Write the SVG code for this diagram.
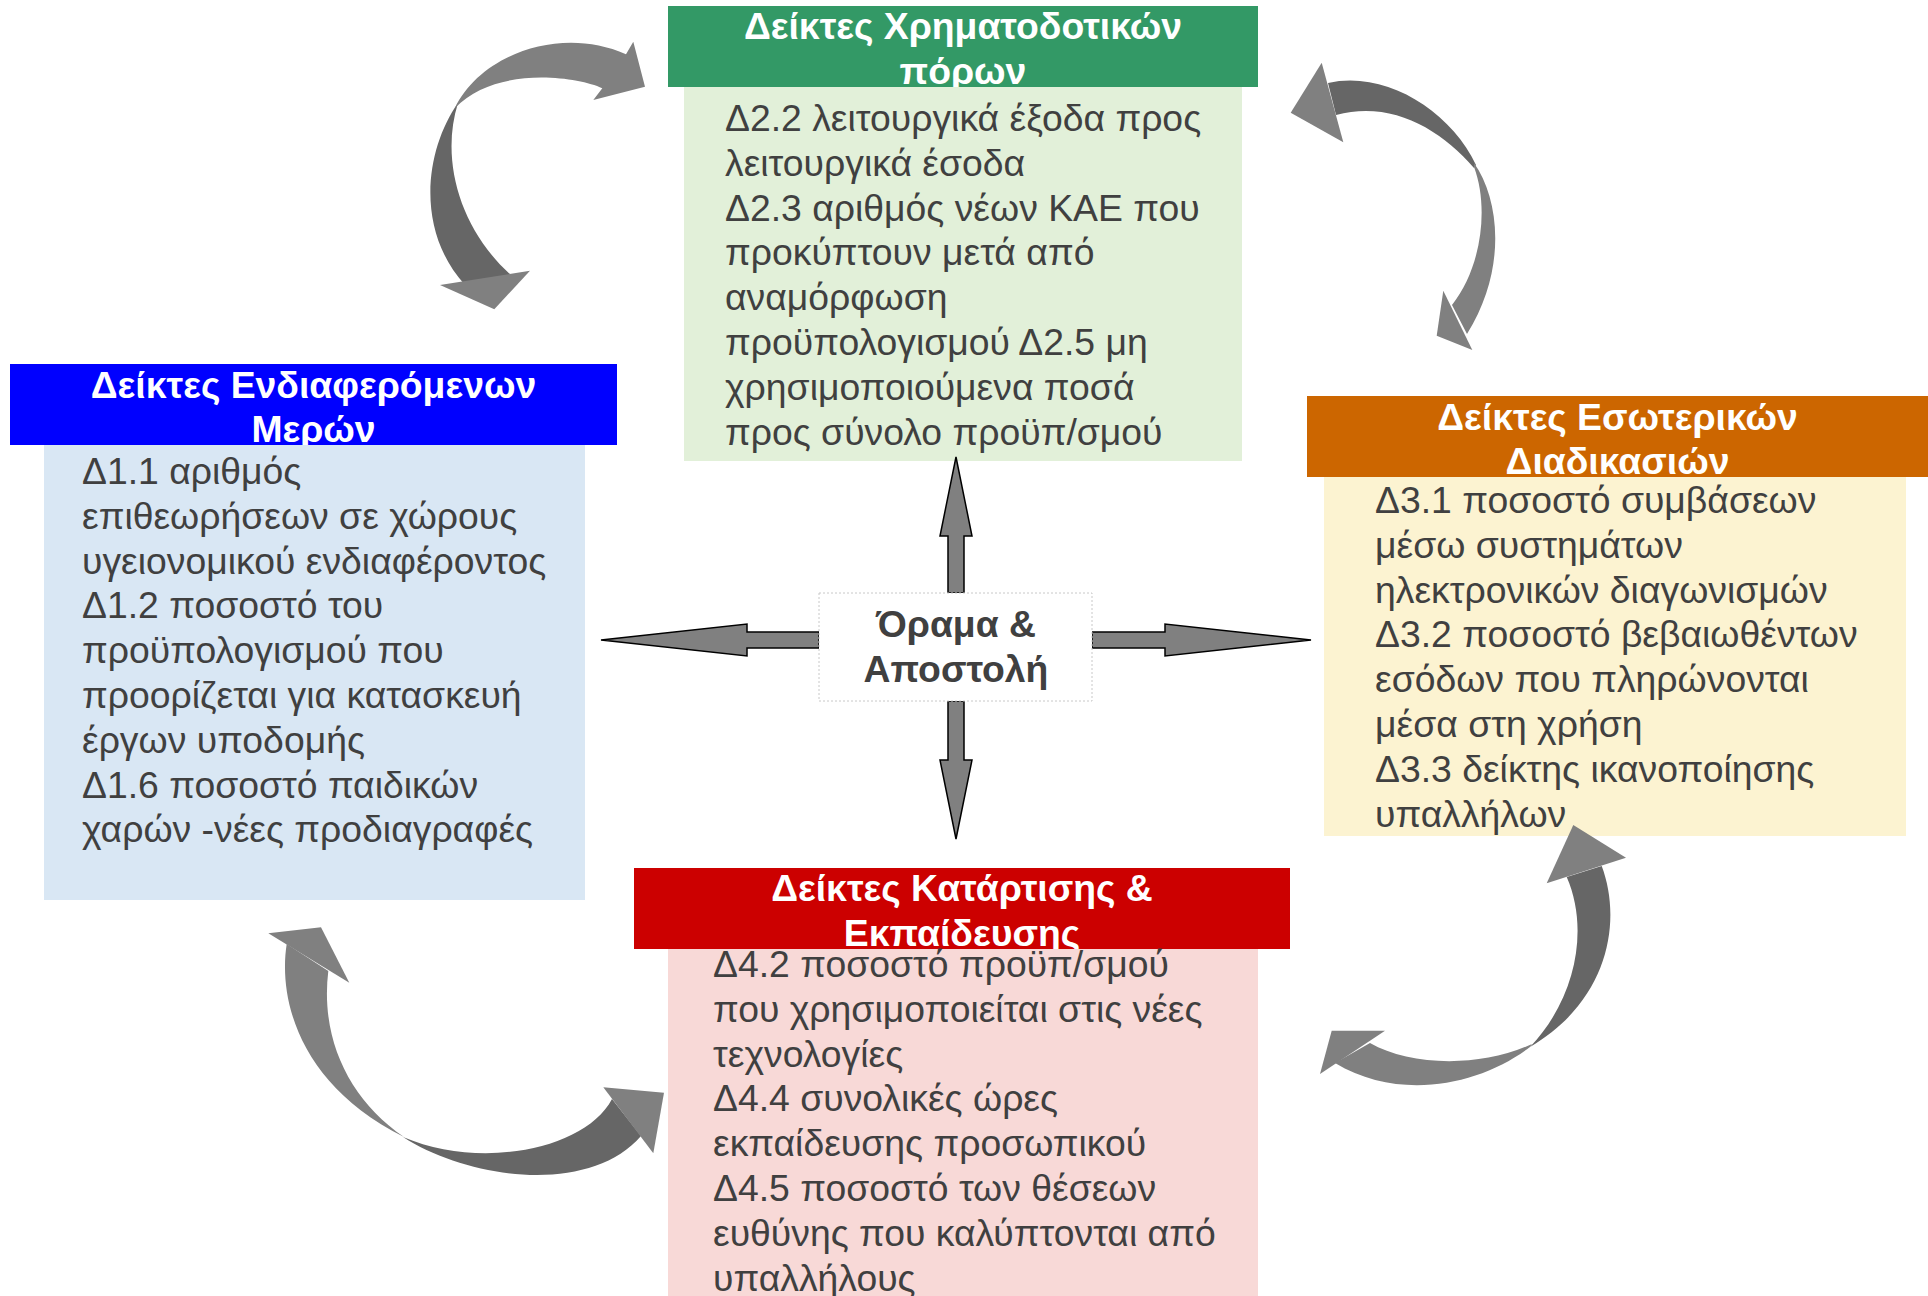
<svg xmlns="http://www.w3.org/2000/svg" width="1928" height="1296" viewBox="0 0 1928 1296">
<style>
text{font-family:"Liberation Sans",Arial,sans-serif;font-size:37.33px}
.t{fill:#ffffff;font-weight:bold;text-anchor:middle}
.b{fill:#404040}
.c{fill:#404040;font-weight:bold;text-anchor:middle}
.lt{fill:#808080}
.dk{fill:#666666}
.sa{fill:#808080;stroke:#000;stroke-width:1.5;stroke-linejoin:miter}
</style>
<rect width="1928" height="1296" fill="#ffffff"/>

<g id="node-finance">
<rect x="668" y="6" width="590" height="81" fill="#339966"/>
<text class="t"><tspan x="963" y="39">Δείκτες Χρηματοδοτικών</tspan><tspan x="963" y="83.8">πόρων</tspan></text>
<rect x="684" y="87" width="558" height="374" fill="#e2f0d9"/>
<text class="b"><tspan x="725" y="131">Δ2.2 λειτουργικά έξοδα προς</tspan><tspan x="725" y="175.8">λειτουργικά έσοδα</tspan><tspan x="725" y="220.6">Δ2.3 αριθμός νέων ΚΑΕ που</tspan><tspan x="725" y="265.4">προκύπτουν μετά από</tspan><tspan x="725" y="310.2">αναμόρφωση</tspan><tspan x="725" y="355">προϋπολογισμού Δ2.5 μη</tspan><tspan x="725" y="399.8">χρησιμοποιούμενα ποσά</tspan><tspan x="725" y="444.6">προς σύνολο προϋπ/σμού</tspan></text>
</g>

<g id="node-stakeholders">
<rect x="10" y="364" width="607" height="81" fill="#0000ff"/>
<text class="t"><tspan x="313.5" y="397.5">Δείκτες Ενδιαφερόμενων</tspan><tspan x="313.5" y="442.3">Μερών</tspan></text>
<rect x="44" y="445" width="541" height="455" fill="#d9e7f4"/>
<text class="b"><tspan x="82" y="484">Δ1.1 αριθμός</tspan><tspan x="82" y="528.8">επιθεωρήσεων σε χώρους</tspan><tspan x="82" y="573.6">υγειονομικού ενδιαφέροντος</tspan><tspan x="82" y="618.4">Δ1.2 ποσοστό του</tspan><tspan x="82" y="663.2">προϋπολογισμού που</tspan><tspan x="82" y="708">προορίζεται για κατασκευή</tspan><tspan x="82" y="752.8">έργων υποδομής</tspan><tspan x="82" y="797.6">Δ1.6 ποσοστό παιδικών</tspan><tspan x="82" y="842.4">χαρών -νέες προδιαγραφές</tspan></text>
</g>

<g id="node-internal">
<rect x="1307" y="396" width="621" height="81" fill="#cc6600"/>
<text class="t"><tspan x="1617.5" y="429.5">Δείκτες Εσωτερικών</tspan><tspan x="1617.5" y="474.3">Διαδικασιών</tspan></text>
<rect x="1324" y="477" width="582" height="359" fill="#fcf3d1"/>
<text class="b"><tspan x="1375" y="513">Δ3.1 ποσοστό συμβάσεων</tspan><tspan x="1375" y="557.8">μέσω συστημάτων</tspan><tspan x="1375" y="602.6">ηλεκτρονικών διαγωνισμών</tspan><tspan x="1375" y="647.4">Δ3.2 ποσοστό βεβαιωθέντων</tspan><tspan x="1375" y="692.2">εσόδων που πληρώνονται</tspan><tspan x="1375" y="737">μέσα στη χρήση</tspan><tspan x="1375" y="781.8">Δ3.3 δείκτης ικανοποίησης</tspan><tspan x="1375" y="826.6">υπαλλήλων</tspan></text>
</g>

<g id="node-training">
<rect x="634" y="868" width="656" height="81" fill="#cc0000"/>
<text class="t"><tspan x="962" y="901">Δείκτες Κατάρτισης &amp;</tspan><tspan x="962" y="945.8">Εκπαίδευσης</tspan></text>
<rect x="668" y="949" width="590" height="347" fill="#f8d9d7"/>
<text class="b"><tspan x="713" y="977">Δ4.2 ποσοστό προϋπ/σμού</tspan><tspan x="713" y="1021.8">που χρησιμοποιείται στις νέες</tspan><tspan x="713" y="1066.6">τεχνολογίες</tspan><tspan x="713" y="1111.4">Δ4.4 συνολικές ώρες</tspan><tspan x="713" y="1156.2">εκπαίδευσης προσωπικού</tspan><tspan x="713" y="1201">Δ4.5 ποσοστό των θέσεων</tspan><tspan x="713" y="1245.8">ευθύνης που καλύπτονται από</tspan><tspan x="713" y="1290.6">υπαλλήλους</tspan></text>
</g>

<g id="connectors">
<polygon class="sa" points="948,593 948,536 940,536 956,457 972,536 964,536 964,593"/>
<polygon class="sa" points="948,701 948,760 940,760 956,839 972,760 964,760 964,701"/>
<polygon class="sa" points="819,632 747,632 747,624 601,640 747,656 747,648 819,648"/>
<polygon class="sa" points="1092,632 1165,632 1165,624 1311,640 1165,656 1165,648 1092,648"/>

<g id="curved-top-left">
<path class="dk" d="M458,103 C425,150 415,230 465,285 L512,276 C460,230 440,160 458,103 Z"/>
<path class="lt" d="M626,54.3 L633.3,41.7 L645,86.7 L593.3,100 L602.3,88.3 C575,76 495,66 455,108 C480,55 560,25 626,54.3 Z"/>
<polygon class="lt" points="440,285 530,270.7 494.3,309.3"/>
</g>

<g id="curved-top-right">
<path class="dk" d="M1328,83 C1385,70 1450,110 1476,165 L1474,168 C1440,128 1390,100 1336,115 Z"/>
<path class="lt" d="M1474,163 C1500,200 1507,270 1467,334 L1452,305 C1480,270 1490,210 1474,167 Z"/>
<polygon class="lt" points="1321.7,62.7 1290.7,112.7 1343.3,142.3"/>
<polygon class="lt" points="1443.3,290.7 1436.7,335.7 1472.3,350"/>
</g>

<g id="curved-bottom-right">
<path class="dk" d="M1601.7,866 C1622,920 1610,1000 1530,1047 C1575,1000 1590,930 1566.7,877 Z"/>
<path class="lt" d="M1530,1047 C1480,1085 1400,1102 1335,1063 L1370,1043 C1410,1066 1480,1068 1532,1044 Z"/>
<polygon class="lt" points="1573.3,825 1626,857.7 1546.7,883.3"/>
<polygon class="lt" points="1331.7,1030.7 1385,1030.7 1320,1074"/>
</g>

<g id="curved-bottom-left">
<path class="dk" d="M403,1137 C470,1180 590,1195 641,1136 L612,1099 C585,1150 480,1170 403,1137 Z"/>
<path class="lt" d="M286.7,944 C278,1000 300,1085 404,1137 C350,1100 320,1040 328.3,971 Z"/>
<polygon class="lt" points="268.3,933.3 321,927.3 349.3,982.7"/>
<polygon class="lt" points="603.3,1087.3 664,1092.7 653.3,1153.3"/>
</g>
</g>

<g id="node-vision">
<rect x="819" y="593" width="273" height="108" fill="#ffffff" stroke="#c8c8c8" stroke-width="1" stroke-dasharray="2,2"/>
<text class="c"><tspan x="956" y="637">Όραμα &amp;</tspan><tspan x="956" y="682">Αποστολή</tspan></text>
</g>
</svg>
